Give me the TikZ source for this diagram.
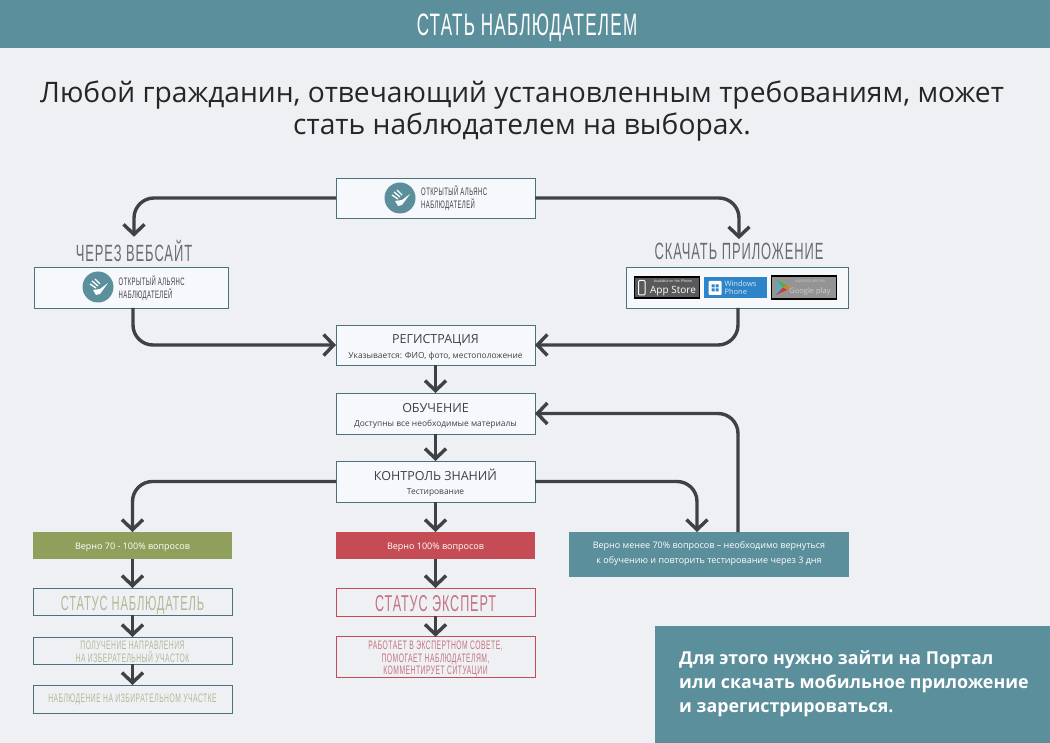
\documentclass[tikz,border=0pt]{standalone}
\usepackage{fontspec}
\setmainfont{Open Sans}
\newfontfamily\tallfont[FakeStretch=0.55,LetterSpace=4]{Liberation Sans}
\usepackage{xcolor}
\definecolor{pagegrey}{RGB}{239, 240, 244}
\definecolor{teal}{RGB}{91, 143, 155}
\definecolor{boxfill}{RGB}{246, 248, 251}
\definecolor{wire}{RGB}{63, 65, 68}
\definecolor{labelgrey}{RGB}{105, 108, 112}
\definecolor{olive}{RGB}{143, 160, 92}
\definecolor{oliveink}{RGB}{176, 186, 150}
\definecolor{crimson}{RGB}{197, 76, 84}
\definecolor{crimsonink}{RGB}{196, 116, 128}
\definecolor{winblue}{RGB}{45, 132, 200}
\usepackage{tikz}
\usetikzlibrary{arrows.meta,calc}
\tikzset{
  flowbox/.style = {draw = teal!80!black, line width = .8pt, fill = boxfill, minimum width = 199pt, minimum height = 40pt, inner sep = 0pt, outer sep = 0pt, align = center, text = wire},
  plainbox/.style = {flowbox, fill = none, minimum height = 27pt},
  colourbox/.style = {minimum width = 199pt, minimum height = 27pt, inner sep = 0pt, outer sep = 0pt, align = center, text = white, text height = 8pt, text depth = 1pt, font = \fontsize{9}{11}\selectfont},
  heading/.style = {font = \tallfont\fontsize{23.5}{25}\selectfont, text = labelgrey},
  allianceword/.style = {anchor = west, align = left, inner sep = 0pt, text = wire, font = \tallfont\fontsize{10.8}{13}\selectfont},
  flow/.style = {draw = wire, line width = 3.4pt, rounded corners = 20pt, -{Straight Barb[length = 10pt, width = 21pt, line width = 3.4pt]}},
  badge/.style = {minimum width = 63pt, minimum height = 21pt, inner sep = 0pt, outer sep = 0pt, align = center, text = white},
  logo/.pic = {
    \fill[teal] (0,0) circle (15.5);
    \fill[white] (-5,3) -- (-2,8) -- (2,7) -- (10,-4) -- (2,2) -- cycle;
    \draw[white, line width = 1.3pt] (-8,-3) -- (-2,1) (-6,-6) -- (0,-1) (-3,-8) -- (2,-3);
  }
}
\newcommand{\alliance}{ОТКРЫТЫЙ АЛЬЯНС\\НАБЛЮДАТЕЛЕЙ}
\newcommand{\twoline}[2]{{\fontsize{12.5}{16}\selectfont\rule{0pt}{14pt}#1}\\[2.5pt]{\fontsize{8.4}{11}\selectfont #2}}
\begin{document}
\begin{tikzpicture}[x = 1pt, y = -1pt]
\fill[pagegrey] (0,0) rectangle (1050,743);
\useasboundingbox (0,0) rectangle (1050,743);
\fill[teal] (0,0) rectangle (1050,48);
\node[text = white, font = \tallfont\fontsize{31}{33}\selectfont] (title) at (527,27.5) {СТАТЬ НАБЛЮДАТЕЛЕМ};
\node[align = center, text = black!85, font = \fontsize{28.2}{31.5}\selectfont] (lead) at (522,111) {Любой гражданин, отвечающий установленным требованиям, может\\стать наблюдателем на выборах.};
% Top row
\node[flowbox] (portal) at (435.5,198) {};
\pic at (400,198) {logo};
\node[allianceword] (portaltext) at (421,198.5) {\alliance};
\node[heading] (weblabel) at (134,251) {ЧЕРЕЗ ВЕБСАЙТ};
\node[heading] (applabel) at (739,251) {СКАЧАТЬ ПРИЛОЖЕНИЕ};
\node[flowbox, minimum width = 194pt, minimum height = 41pt] (web) at (131,287.5) {};
\pic at (98,287) {logo};
\node[allianceword] (webtext) at (118.5,288) {\alliance};
\node[flowbox, minimum width = 222pt, minimum height = 41pt] (app) at (737,287.5) {};
\coordinate (webout) at (133,308);
\coordinate (appout) at (738,308);
\node[badge, fill = black!65, draw = black, line width = 1.2pt, minimum width = 65pt] (appstore) at (667,287.5) {\hspace*{12pt}\fontsize{3.5}{4}\selectfont Available on the iPhone\\[-1pt]\hspace*{12pt}\fontsize{10}{10}\selectfont App Store};
\node[badge, fill = winblue, align = left, font = \fontsize{7.5}{8.5}\selectfont, text = white!80!winblue] (winphone) at (735.5,287.5) {\hspace*{10pt}Windows\\\hspace*{10pt}Phone};
\node[badge, fill = black!42, draw = black, line width = 1.5pt, minimum width = 65pt, minimum height = 23pt, text = white!80!black] (gplay) at (804,287.5) {\hspace*{12pt}\fontsize{3.5}{4}\selectfont ANDROID APP ON\\[-1pt]\hspace*{12pt}\fontsize{7.5}{8.5}\selectfont Google play};
% Badge icons
\draw[white, line width = 1pt, rounded corners = 1pt] (638.5,280.5) rectangle (645,295);
\fill[white, rounded corners = 1pt] (708.5,281) rectangle (721.5,295);
\fill[winblue] (711.5,284.5) rectangle (714.5,287.5) (715.5,284.5) rectangle (718.5,287.5) (711.5,288.5) rectangle (714.5,291.5) (715.5,288.5) rectangle (718.5,291.5);
\fill[cyan!50!gray] (776,280) -- (776,295) -- (783,287.5) -- cycle;
\fill[orange!70!gray] (783,287.5) -- (787,285) -- (790,287.5) -- (787,290) -- cycle;
\fill[red!50!gray] (776,295) -- (783,287.5) -- (787,290) -- cycle;
\fill[green!40!gray] (776,280) -- (783,287.5) -- (787,285) -- cycle;
% Middle column
\node[flowbox] (signup) at (435.5,345) {\twoline{РЕГИСТРАЦИЯ}{Указывается: ФИО, фото, местоположение}};
\node[flowbox, minimum height = 41pt] (course) at (435.5,413.5) {\twoline{ОБУЧЕНИЕ}{Доступны все необходимые материалы}};
\node[flowbox, minimum height = 41pt] (exam) at (435.5,481.5) {\twoline{КОНТРОЛЬ ЗНАНИЙ}{Тестирование}};
% Results
\node[colourbox, fill = olive] (passed) at (132.5,545.5) {Верно 70 - 100\% вопросов};
\node[colourbox, fill = crimson] (perfect) at (435.5,545.5) {Верно 100\% вопросов};
\node[colourbox, fill = teal, minimum width = 280pt, minimum height = 45pt, text height = {}, text depth = {}, font = \fontsize{9}{15}\selectfont] (failed) at (709,554) {Верно менее 70\% вопросов – необходимо вернуться\\к обучению и повторить тестирование через 3 дня};
\coordinate (failedin) at (697,532);
\coordinate (failedout) at (738,532);
% Observer
\node[plainbox, text = oliveink, text depth = 0pt, font = \tallfont\fontsize{20.4}{22}\selectfont] (observer) at (132.5,601.5) {\rule{0pt}{17pt}СТАТУС НАБЛЮДАТЕЛЬ};
\node[plainbox, text = oliveink, font = \tallfont\fontsize{12.3}{13}\selectfont] (referral) at (132.5,650.5) {\rule{0pt}{12pt}ПОЛУЧЕНИЕ НАПРАВЛЕНИЯ\\НА ИЗБЕРАТЕЛЬНЫЙ УЧАСТОК};
\node[plainbox, minimum height = 28pt, text = oliveink, font = \tallfont\fontsize{12.3}{12.5}\selectfont] (watch) at (132.5,699) {НАБЛЮДЕНИЕ НА ИЗБИРАТЕЛЬНОМ УЧАСТКЕ};
% Expert
\node[plainbox, draw = crimson, minimum height = 28pt, text = crimsonink, font = \tallfont\fontsize{22.9}{24}\selectfont] (expert) at (435.5,602) {\rule{0pt}{19pt}СТАТУС ЭКСПЕРТ};
\node[plainbox, draw = crimson, minimum height = 40pt, text = crimsonink, font = \tallfont\fontsize{12.3}{12.5}\selectfont] (council) at (435.5,657) {\rule{0pt}{13pt}РАБОТАЕТ В ЭКСПЕРТНОМ СОВЕТЕ,\\ПОМОГАЕТ НАБЛЮДАТЕЛЯМ,\\КОММЕНТИРУЕТ СИТУАЦИИ};
% Note
\node[anchor = north west, fill = teal, minimum width = 395pt, minimum height = 117pt, inner sep = 0pt, outer sep = 0pt] (note) at (655,626) {};
\node[anchor = west, align = left, inner sep = 0pt, text = white, font = \fontsize{17.8}{24}\selectfont\bfseries] (notetext) at (679,684) {Для этого нужно зайти на Портал\\или скачать мобильное приложение\\и зарегистрироваться.};
% Connectors
\draw[flow] (portal.west) -| (weblabel.north);
\draw[flow] (portal.east) -| (applabel.north);
\draw[flow] (webout) |- (signup.west);
\draw[flow] (appout) |- (signup.east);
\draw[flow] (signup) -- (course);
\draw[flow] (course) -- (exam);
\draw[flow] (exam.west) -| (passed.north);
\draw[flow] (exam.south) -- (perfect.north);
\draw[flow] (exam.east) -| (failedin);
\draw[flow] (failedout) |- (course.east);
\draw[flow] (passed) -- (observer);
\draw[flow] (observer) -- (referral);
\draw[flow] (referral) -- (watch);
\draw[flow] (perfect) -- (expert);
\draw[flow] (expert) -- (council);
\end{tikzpicture}
\end{document}
